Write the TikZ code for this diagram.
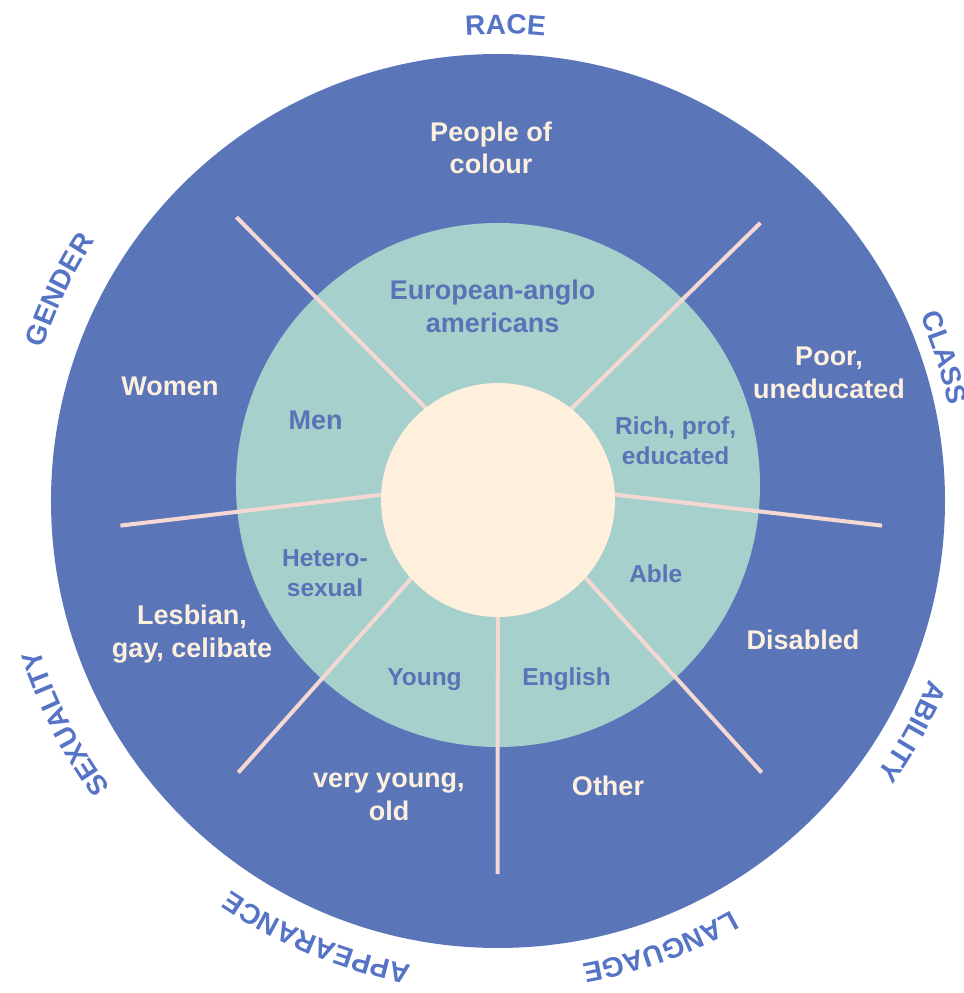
\documentclass[tikz,border=0pt]{standalone}
\usepackage{fontspec}
\setmainfont{Liberation Sans}
\usepackage{xcolor}
\usepackage{tikz}
\usetikzlibrary{decorations.text}

\definecolor{ringblue}{HTML}{5A76B8}
\definecolor{innerteal}{HTML}{A6D0CB}
\definecolor{corecream}{HTML}{FFF0DE}
\definecolor{spokepink}{HTML}{F5D8D4}
\definecolor{lighttxt}{HTML}{FDF0DF}
\definecolor{darktxt}{HTML}{5A72B6}
\definecolor{catblue}{HTML}{5674C6}

\newcommand{\catfont}{\fontsize{19.9}{24}\selectfont\bfseries}

\begin{document}
\begin{tikzpicture}[
    % GLOBAL CFG
    x=0.025cm, y=0.025cm,
    % Styles
    outertxt/.style={% labels in the blue ring
        text=lighttxt,
        align=center,
        inner sep=0pt,
        font=\fontsize{19.2}{23.2}\selectfont\bfseries,
        },
    innertxt/.style={% labels in the teal ring
        text=darktxt,
        align=center,
        inner sep=0pt,
        font=\fontsize{17.4}{21.4}\selectfont\bfseries,
        },
    bigtxt/.style={% the two larger teal labels
        innertxt,
        font=\fontsize{19.2}{23.5}\selectfont\bfseries,
        },
    spoke/.style={% separators between the sectors
        draw=spokepink,
        line width=0.1cm,
        },
    catlabel/.style={% curved category names round the wheel
        decorate,
        decoration={text along path, text align=center,
            text color=catblue, text={|\catfont|#1}},
        },
    ]

    \useasboundingbox (-498,-492) rectangle (465,501);

    % Draw the rings
    \fill [ringblue] (0,0) circle [radius=447];
    \fill [innerteal] (0,16) circle [radius=262];

    % Spokes named hub and end#
    \coordinate (hub) at (0,20);
    \coordinate (end1) at (-261.5,283.8);
    \coordinate (end2) at (262.4,278.1);
    \coordinate (end3) at (384,-24.6);
    \coordinate (end4) at (-377.6,-24.6);
    \coordinate (end5) at (263.7,-271.6);
    \coordinate (end6) at (-259.7,-271.6);
    \coordinate (end7) at (-0.5,-373);
    \draw [spoke] (hub) -- (end1);
    \draw [spoke] (hub) -- (end2);
    \draw [spoke] (hub) -- (end3);
    \draw [spoke] (hub) -- (end4);
    \draw [spoke] (hub) -- (end5);
    \draw [spoke] (hub) -- (end6);
    \draw [spoke] (hub) -- (end7);

    % Centre disc
    \fill [corecream] (0,1) circle [radius=117];

    % Outer ring texts
    \node [outertxt] (colour) at (-7,353) {People of\\colour};
    \node [outertxt, anchor=base] (women) at (-328,105) {Women};
    \node [outertxt] (poor) at (331,128) {Poor,\\uneducated};
    \node [outertxt] (lesbian) at (-306,-133) {Lesbian,\\gay, celibate};
    \node [outertxt, anchor=base] (disabled) at (305,-148) {Disabled};
    \node [outertxt] (old) at (-109,-296) {very young,\\old};
    \node [outertxt, anchor=base] (other) at (110,-294) {Other};

    % Teal ring texts
    \node [bigtxt] (european) at (-5.4,195) {European-anglo\\americans};
    \node [bigtxt, anchor=base] (men) at (-182.4,71.5) {Men};
    \node [innertxt] (rich) at (177.7,60) {Rich, prof,\\educated};
    \node [innertxt] (hetero) at (-173,-72) {Hetero-\\sexual};
    \node [innertxt, anchor=base] (able) at (157.8,-81.6) {Able};
    \node [innertxt, anchor=base] (young) at (-73.5,-184.2) {Young};
    \node [innertxt, anchor=base] (english) at (68.6,-184.2) {English};

    % Category names along the rim
    \path [catlabel=RACE] (119.1:467) arc [start angle=119.1, end angle=59.1, radius=467];
    \path [catlabel=CLASS] (47.8:461) arc [start angle=47.8, end angle=-12.2, radius=461];
    \path [catlabel=ABILITY] (0.9:467) arc [start angle=0.9, end angle=-59.1, radius=467];
    \path [catlabel=LANGUAGE] (-40:471) arc [start angle=-40, end angle=-100, radius=471];
    \path [catlabel=APPEARANCE] (277.5:472) arc [start angle=277.5, end angle=217.5, radius=472];
    \path [catlabel=SEXUALITY] (237.2:482) arc [start angle=237.2, end angle=177.2, radius=482];
    \path [catlabel=GENDER] (184.3:480) arc [start angle=184.3, end angle=124.3, radius=480];

\end{tikzpicture}
\end{document}
